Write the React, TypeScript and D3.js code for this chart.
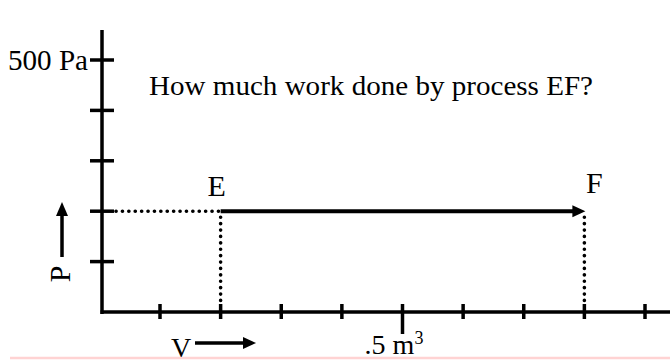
import React from "react";
import * as d3 from "d3";

const pTicks = [100, 200, 300, 400, 500];
const vTicks = [0.1, 0.2, 0.3, 0.4, 0.5, 0.6, 0.7, 0.8, 0.9];
const states = [
  { name: "E", V: 0.2, P: 200 },
  { name: "F", V: 0.8, P: 200 },
];
const title = "How much work done by process EF?";
const pLabel = "500 Pa";

const W = 670;
const H = 364;
const FONT = "'Liberation Serif', 'Times New Roman', serif";

export default function App() {
  const x = d3.scaleLinear().domain([0.1, 0.9]).range([160, 645]);
  const y = d3.scaleLinear().domain([0, 500]).range([312, 60]);
  const axisX = 102;
  const y0 = y(0);
  const E = states[0];
  const F = states[1];
  const ex = x(E.V), fx = x(F.V), ey = y(E.P);
  const dot = { stroke: "#000", strokeWidth: 3.6, strokeLinecap: "round" as const, strokeDasharray: "0.1 6.3" };

  return (
    <svg
      width={W}
      height={H}
      style={{ position: "absolute", left: 0, top: 0, background: "#fff" }}
    >
      {/* pink line */}
      <line x1={10} x2={670} y1={358} y2={358} stroke="#ffd3d3" strokeWidth={2.5} />

      {/* y axis */}
      <line x1={axisX} x2={axisX} y1={30} y2={y0 + 2} stroke="#000" strokeWidth={3.5} />
      {pTicks.map((p) => (
        <line key={p} x1={axisX - 12} x2={axisX + 12} y1={y(p)} y2={y(p)} stroke="#000" strokeWidth={3.5} />
      ))}
      {/* x axis */}
      <line x1={axisX - 1.5} x2={670} y1={y0} y2={y0} stroke="#000" strokeWidth={3.5} />
      {vTicks.map((v) => (
        <line
          key={v}
          x1={x(v)}
          x2={x(v)}
          y1={y0 - 8}
          y2={v === 0.5 ? y0 + 22 : y0 + 7}
          stroke="#000"
          strokeWidth={3.5}
        />
      ))}

      {/* dotted guides */}
      <line x1={axisX + 14} x2={ex} y1={ey} y2={ey} {...dot} />
      <line x1={ex} x2={ex} y1={ey + 6} y2={y0 - 6} {...dot} />
      <line x1={fx} x2={fx} y1={ey + 6} y2={y0 - 6} {...dot} />

      {/* process arrow */}
      <line x1={ex} x2={fx - 10} y1={ey} y2={ey} stroke="#000" strokeWidth={4} />
      <path d={`M${fx + 1},${ey} L${fx - 12},${ey - 6} L${fx - 12},${ey + 6} Z`} fill="#000" />

      {/* labels */}
      <text x={88} y={70} fontFamily={FONT} fontSize={29} textAnchor="end" textLength={80} lengthAdjust="spacingAndGlyphs">{pLabel}</text>
      <text x={149} y={95} fontFamily={FONT} fontSize={28} textLength={444} lengthAdjust="spacingAndGlyphs">{title}</text>
      {states.map((s, i) => (
        <text key={s.name} x={x(s.V) - 4 + i * 14} y={i === 0 ? 196 : 193} fontFamily={FONT} fontSize={30} textAnchor="middle">{s.name}</text>
      ))}
      <text x={394} y={354} fontFamily={FONT} fontSize={28} textAnchor="middle">
        .5 m<tspan fontSize={18} dy={-10}>3</tspan>
      </text>

      {/* P label and arrow */}
      <text transform="translate(70,274) rotate(-90)" fontFamily={FONT} fontSize={30} textAnchor="middle">P</text>
      <line x1={62} x2={62} y1={257} y2={214} stroke="#000" strokeWidth={3.5} />
      <path d="M62,202 L56,216 L68,216 Z" fill="#000" />

      {/* V label and arrow */}
      <text x={181} y={357} fontFamily={FONT} fontSize={28} textAnchor="middle">V</text>
      <line x1={195} x2={245} y1={343} y2={343} stroke="#000" strokeWidth={3.5} />
      <path d="M256,343 L243,337 L243,349 Z" fill="#000" />
    </svg>
  );
}
